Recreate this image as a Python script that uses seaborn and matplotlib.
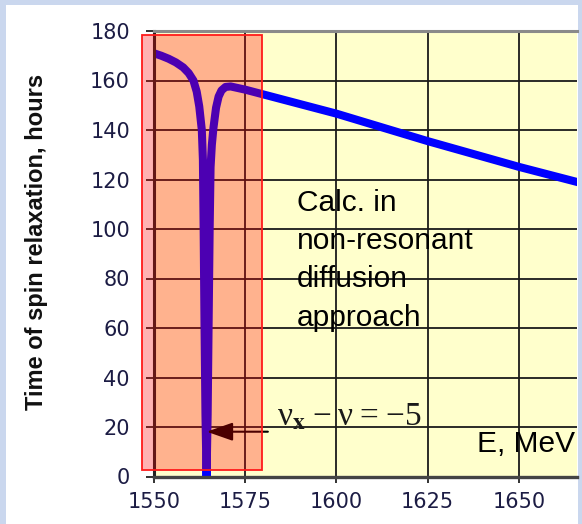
import matplotlib
matplotlib.use("Agg")
import numpy as np
import pandas as pd
import seaborn as sns
import matplotlib.pyplot as plt
from matplotlib.patches import Rectangle

# Spin relaxation time vs beam energy (resonance dip near 1564 MeV)
energy = [1550, 1552, 1554, 1556, 1558, 1559.5, 1560.8, 1561.7, 1562.4, 1563.1,
          1563.4, 1563.6, 1563.85, 1564.1, 1564.4, 1564.7, 1564.95, 1565.25,
          1565.5, 1565.85, 1566.3, 1567.0, 1567.7, 1568.5, 1569.6, 1571.0,
          1575, 1600, 1625, 1650, 1668]
tau_hours = [171, 170, 168.8, 167.3, 165.3, 163, 160, 155.5, 149.5, 140,
             128, 100, 60, 25, 0, 25, 60, 100,
             125, 134, 141, 149, 153.5, 156, 157.4, 157.6,
             156.3, 146.6, 135.5, 125.1, 118.2]

x_ticks = [1550, 1575, 1600, 1625, 1650]
y_ticks = [0, 20, 40, 60, 80, 100, 120, 140, 160, 180]
note_lines = ["Calc. in", "non-resonant", "diffusion", "approach"]
note_baselines = [107.4, 91.9, 76.4, 60.9]

sns.set_theme(style="white")
plt.rcParams["font.family"] = ["Liberation Sans", "DejaVu Sans"]
plt.rcParams["mathtext.fontset"] = "stix"

W, H = 582, 524
fig = plt.figure(figsize=(W / 100, H / 100), dpi=100, facecolor="#cad7ee")
fig.patches.append(Rectangle((6 / W, 0), (577.5 - 6) / W, 519 / H,
                             transform=fig.transFigure, facecolor="white",
                             edgecolor="none", zorder=-10))

ax = fig.add_axes([154 / W, 47.5 / H, (577 - 154) / W, (476.5 - 31) / H])
ax.set_zorder(1)
ax.set_facecolor("#ffffcc")

df = pd.DataFrame({"E": energy, "tau": tau_hours})
sns.lineplot(data=df, x="E", y="tau", sort=False, color="#0000ff", lw=5.8,
             ax=ax, solid_capstyle="round", solid_joinstyle="round", zorder=2)

ax.set_xlim(1550, 1665.9)
ax.set_ylim(0, 180)
ax.set_xticks(x_ticks)
ax.set_yticks(y_ticks)
ax.set_xlabel("")
ax.set_ylabel("")
ax.grid(True, color="#1a1a1a", lw=1.3)
ax.set_axisbelow(True)

ax.spines["right"].set_visible(False)
ax.spines["top"].set_color("#8a8a8a")
ax.spines["top"].set_linewidth(2.2)
ax.spines["bottom"].set_color("#444444")
ax.spines["bottom"].set_linewidth(2.4)
ax.spines["left"].set_color("#222222")
ax.spines["left"].set_linewidth(2.2)

ax.tick_params(axis="y", left=True, length=5.8, width=1.3, pad=11.5,
               labelsize=15, labelcolor="#1c1c44", color="#222222")
ax.tick_params(axis="x", bottom=True, length=4.5, width=1.3, pad=7.0,
               labelsize=15, labelcolor="#1c1c44", color="#222222")
for lab in ax.get_xticklabels() + ax.get_yticklabels():
    lab.set_family("DejaVu Sans")

# resonance band
ax.add_patch(Rectangle((1546.7, 2.6), 1579.6 - 1546.7, 178.4 - 2.6,
                       facecolor=(1, 0, 0, 0.3), edgecolor="#ff1a1a", lw=1.3,
                       clip_on=False, zorder=3))

ax.annotate("", xy=(1564.45, 18.1), xytext=(1581.2, 18.1),
            arrowprops=dict(arrowstyle="-|>,head_length=0.8,head_width=0.28",
                            mutation_scale=20, color="black", lw=1.5,
                            shrinkA=0, shrinkB=0), zorder=2.5)
ax.text(1583.6, 20.8, "ν$_{\\mathbf{x}}$\u2009−\u2009ν\u2009=\u2009−5",
        family=["Liberation Serif", "DejaVu Serif"], fontsize=24,
        color="#1a1a1a", va="baseline", ha="left", zorder=4)

for line, yb in zip(note_lines, note_baselines):
    ax.text(1589.2, yb, line, fontsize=21.5, color="black", va="baseline",
            ha="left", zorder=4)

ax.text(1638.4, 9.9, "E, MeV", fontsize=21.5, color="black", va="baseline",
        ha="left", zorder=4, clip_on=False)

fig.text(37 / W, 1 - 242 / H, "Time of spin relaxation, hours", rotation=90,
         ha="center", va="center", fontsize=17, fontweight="bold",
         color="#111111")

fig.savefig("out.png", dpi=100, facecolor=fig.get_facecolor())
